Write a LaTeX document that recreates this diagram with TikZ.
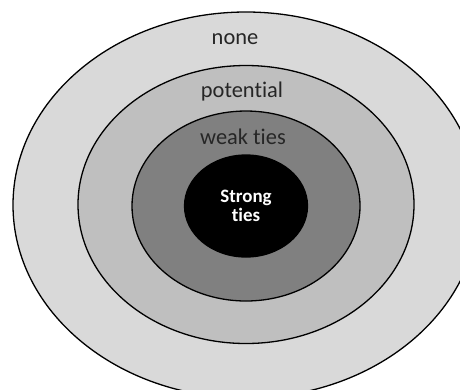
\documentclass[tikz,border=0pt]{standalone}
\usepackage{fontspec}
\setmainfont[RawFeature={-liga}]{Carlito}
\begin{document}
\begin{tikzpicture}[x=1bp,y=-1bp,
  ring/.style={draw=black,line width=1.3bp},
  lbl/.style={font=\fontsize{22.5}{22.5}\selectfont,text=black!85,inner sep=0pt},
  corelbl/.style={font=\bfseries\fontsize{19}{19.5}\selectfont,text=white,align=center,inner sep=0pt}]
  \useasboundingbox (0,0) rectangle (460,389);
  \clip (0,0) rectangle (460,389);
  % concentric tie zones, outermost first
  \fill[white] (0,0) rectangle (460,389);
  \draw[ring,fill=black!15] (246,205) ellipse [x radius=233, y radius=193];
  \draw[ring,fill=black!25] (246,204.5) ellipse [x radius=168, y radius=139];
  \draw[ring,fill=black!50] (246,206) ellipse [x radius=114, y radius=95];
  \draw[ring,fill=black] (246,206) ellipse [x radius=61.5, y radius=51];
  % zone labels
  \node[lbl] (none) at (235,39) {none};
  \node[lbl] (potential) at (242,92) {potential};
  \node[lbl] (weak) at (243,137) {weak ties};
  \node[corelbl] (strong) at (246,206) {Strong\\ties};
\end{tikzpicture}
\end{document}
